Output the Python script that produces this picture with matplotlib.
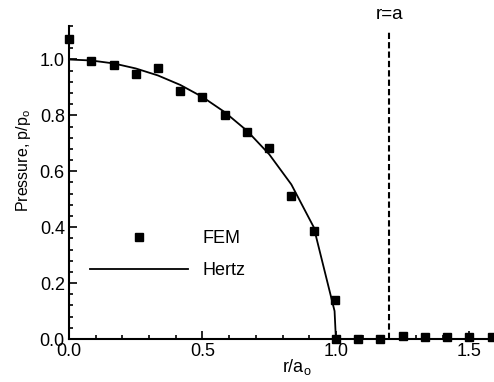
import matplotlib
matplotlib.use("Agg")
import matplotlib.pyplot as plt
from matplotlib.ticker import MultipleLocator, FormatStrFormatter
from matplotlib.lines import Line2D

plt.rcParams['font.family'] = ['Liberation Sans', 'DejaVu Sans']
plt.rcParams['mathtext.fontset'] = 'custom'
plt.rcParams['mathtext.rm'] = 'Liberation Sans'

# Finite element contact pressure, normalised by the peak Hertz pressure
fem_r = [0.0, 0.083, 0.167, 0.25, 0.333, 0.417, 0.5, 0.583, 0.667, 0.75,
         0.833, 0.917, 0.997, 1.0, 1.083, 1.167, 1.25, 1.333, 1.417, 1.5, 1.583]
fem_p = [1.074, 0.996, 0.98, 0.948, 0.970, 0.888, 0.867, 0.801, 0.739, 0.684,
         0.513, 0.387, 0.14, 0.0, 0.0, 0.001, 0.01, 0.007, 0.007, 0.006, 0.006]

# Hertz solution, sampled along the radius
hertz_r = [0.0, 0.083, 0.167, 0.25, 0.333, 0.417, 0.5, 0.583, 0.667, 0.75,
           0.833, 0.917, 0.995, 1.0, 1.6]
hertz_p = [1.0, 0.9965, 0.986, 0.968, 0.943, 0.909, 0.866, 0.812, 0.745, 0.661,
           0.553, 0.400, 0.100, 0.0, 0.0]

contact_radius = 1.2

FS = 13

fig = plt.figure(figsize=(4.94, 3.82), dpi=100)
ax = fig.add_axes([69 / 494, 43 / 382, 1.6 * 266.9 / 494, 1.12 * 279.5 / 382])

ax.plot(hertz_r, hertz_p, color='black', lw=1.3, clip_on=False, zorder=3)
ax.plot(fem_r, fem_p, linestyle='none', marker='s', ms=6.3, color='black',
        clip_on=False, zorder=4)

ax.plot([contact_radius, contact_radius], [0, 1.105], color='black', lw=1.5,
        linestyle=(0, (3, 1.5)), clip_on=False)
ax.text(contact_radius, 1.16, 'r=a', ha='center', va='center', fontsize=FS + 0.5,
        clip_on=False)

ax.set_xlim(0, 1.6)
ax.set_ylim(0, 1.12)
ax.xaxis.set_major_locator(MultipleLocator(0.5))
ax.xaxis.set_minor_locator(MultipleLocator(0.1))
ax.yaxis.set_major_locator(MultipleLocator(0.2))
ax.yaxis.set_minor_locator(MultipleLocator(0.04))
ax.xaxis.set_major_formatter(FormatStrFormatter('%.1f'))
ax.yaxis.set_major_formatter(FormatStrFormatter('%.1f'))

for side in ('top', 'right'):
    ax.spines[side].set_visible(False)
for side in ('left', 'bottom'):
    ax.spines[side].set_linewidth(1.5)

ax.tick_params(which='both', direction='in', width=1.2, labelsize=FS)
ax.tick_params(which='major', length=6, pad=3)
ax.tick_params(which='minor', length=3)

ax.set_ylabel(r'Pressure, p/p$_\mathregular{o}$', fontsize=11.5)
ax.set_xlabel(r'r/a$_\mathregular{o}$', fontsize=FS)
ax.xaxis.set_label_coords(0.534, -0.058)
ax.yaxis.set_label_coords(-0.084, 0.569)
ax.xaxis.label.set_va('top')

handles = [
    Line2D([], [], linestyle='none', marker='s', ms=6.3, color='black'),
    Line2D([], [], color='black', lw=1.3),
]
ax.legend(handles, ['FEM', 'Hertz'], loc='upper left',
          bbox_to_anchor=(90 / 494, 1 - 230 / 382),
          bbox_transform=fig.transFigure, frameon=False, fontsize=FS,
          borderpad=0, borderaxespad=0, handlelength=5.4, handletextpad=0.85,
          labelspacing=0.85)

fig.savefig('out.png', dpi=100)
